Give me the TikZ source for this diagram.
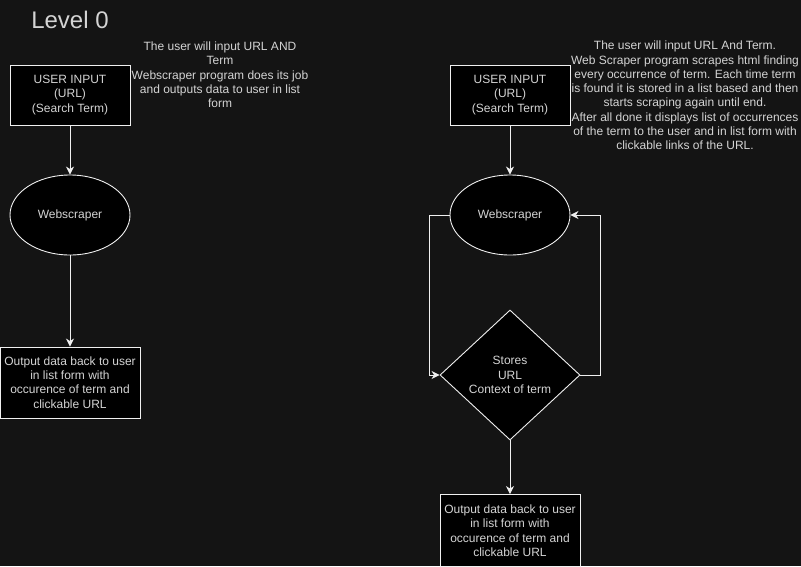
\documentclass[tikz,border=0pt]{standalone}
\usepackage{fontspec}
\setmainfont{Liberation Sans}
\usetikzlibrary{shapes.geometric,arrows.meta}
\definecolor{canvas}{HTML}{141414}
\definecolor{ink}{HTML}{D4D4D4}
\definecolor{edge}{HTML}{F0F0F0}
\tikzset{
  base/.style={draw=edge, fill=black, text=ink, line width=0.9pt, align=center, inner sep=0pt,
    font=\fontsize{12}{14.4}\selectfont},
  box/.style={base, rectangle, minimum width=#1, minimum height=60pt},
  oval/.style={base, ellipse, minimum width=120pt, minimum height=80pt},
  decision/.style={base, diamond, minimum width=140pt, minimum height=130pt},
  note/.style={text=ink, align=center, inner sep=0pt, font=\fontsize{12}{14.3}\selectfont},
  flow/.style={draw=edge, line width=0.9pt, -{Stealth[length=8pt,width=8pt,inset=2.5pt]}},
}
\begin{document}
\begin{tikzpicture}[x=1pt,y=-1pt]
  \fill[canvas] (0,0) rectangle (801,566);
  \useasboundingbox (0,0) rectangle (801,566);

  \node[text=ink, font=\fontsize{24}{28}\selectfont, inner sep=0pt] (title) at (70,20) {Level 0};

  % simple flow
  \node[box=120pt] (in1) at (70,95) {USER INPUT\\(URL)\\(Search Term)};
  \node[oval] (ws1) at (70,215) {Webscraper};
  \node[box=140pt, minimum height=71pt] (out1) at (70,382.5) {Output data back to user\\in list form with\\occurence of term and\\clickable URL};
  \node[note] (note1) at (220,75) {The user will input URL AND\\Term\\Webscraper program does its job\\and outputs data to user in list\\form};

  \draw[flow] (in1) -- (ws1);
  \draw[flow] (ws1) -- (out1);

  % flow with storage loop
  \node[box=120pt] (in2) at (510,95) {USER INPUT\\(URL)\\(Search Term)};
  \node[oval] (ws2) at (510,215) {Webscraper};
  \node[decision] (st) at (510,375) {Stores\\URL\\Context of term};
  \node[box=140pt, minimum height=72pt] (out2) at (510,530.5) {Output data back to user\\in list form with\\occurence of term and\\clickable URL};
  \node[note] (note2) at (685,95.5) {The user will input URL And Term.\\Web Scraper program scrapes html finding\\every occurrence of term. Each time term\\is found it is stored in a list based and then\\starts scraping again until end.\\After all done it displays list of occurrences\\of the term to the user and in list form with\\clickable links of the URL.};

  \draw[flow] (in2) -- (ws2);
  \draw[flow] (ws2.west) -- ++(-20,0) |- (st.west);
  \draw[flow] (st.east) -- ++(20,0) |- (ws2.east);
  \draw[flow] (st) -- (out2);
\end{tikzpicture}
\end{document}
